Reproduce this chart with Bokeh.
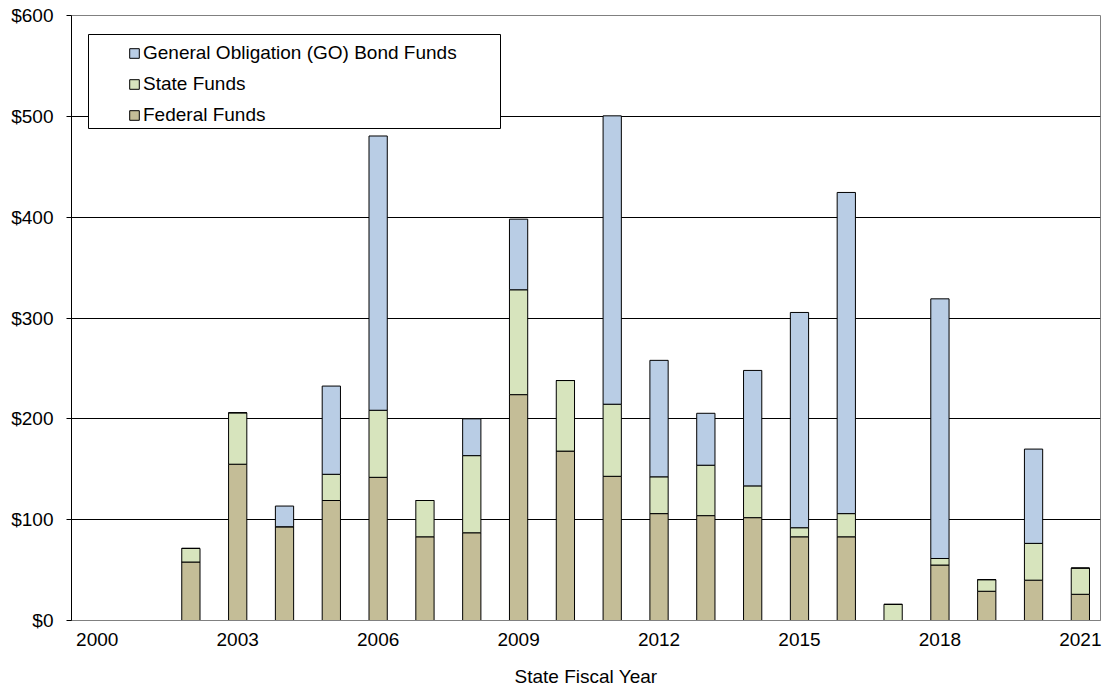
from bokeh.plotting import figure
from bokeh.models import (FixedTicker, NumeralTickFormatter, Legend, LegendItem,
                          BoxAnnotation, Range1d, ColumnDataSource)
from bokeh.embed import file_html
from bokeh.resources import INLINE

years = [2002, 2003, 2004, 2005, 2006, 2007, 2008, 2009, 2010, 2011,
         2012, 2013, 2014, 2015, 2016, 2017, 2018, 2019, 2020, 2021]
federal = [58, 155, 93, 119, 142, 83, 87, 224, 168, 143,
           106, 104, 102, 83, 83, 0, 55, 29, 40, 26]
state = [13.5, 51, 0, 26, 66.5, 36, 76.5, 104, 70, 71.5,
         36.5, 50, 31.5, 9, 23, 16, 6.5, 11.5, 36.5, 26]
go = [0, 0, 20.5, 87.5, 272, 0, 36.5, 70, 0, 286,
      115.5, 51.5, 114.5, 213.5, 318.5, 0, 257.5, 0, 93.5, 0]

series = ["federal", "state", "go"]
labels = {"go": "General Obligation (GO) Bond Funds",
          "state": "State Funds",
          "federal": "Federal Funds"}
colors = ["#C4BD97", "#D7E4BD", "#B9CDE5"]
x_ticks = [2000, 2003, 2006, 2009, 2012, 2015, 2018, 2021]
y_ticks = [0, 100, 200, 300, 400, 500, 600]

FONT = "Liberation Sans"

source = ColumnDataSource(dict(year=years, federal=federal, state=state, go=go))

x0, x1 = 1999.45, 2021.43
p = figure(width=1102, height=693, output_backend="svg", toolbar_location=None,
           x_range=Range1d(x0, x1), y_range=Range1d(0, 600),
           min_border_left=71, min_border_right=2, min_border_top=15,
           min_border_bottom=73)

renderers = p.vbar_stack(series, x="year", width=0.39, source=source,
                         color=colors, line_color="black", line_width=1)

p.xgrid.grid_line_color = None
p.ygrid.grid_line_color = "black"
p.ygrid.grid_line_width = 1
p.outline_line_color = "#808080"
p.background_fill_color = "white"

p.xaxis.ticker = FixedTicker(ticks=x_ticks)
p.yaxis.ticker = FixedTicker(ticks=y_ticks)
p.yaxis.formatter = NumeralTickFormatter(format="$0")
p.xaxis.axis_label = "State Fiscal Year"
for ax in (p.xaxis[0], p.yaxis[0]):
    ax.major_label_text_font = FONT
    ax.major_label_text_font_size = "19px"
    ax.major_label_text_color = "black"
    ax.axis_label_text_font = FONT
    ax.axis_label_text_font_size = "19px"
    ax.axis_label_text_font_style = "normal"
    ax.axis_label_text_color = "black"
    ax.minor_tick_line_color = None
p.xaxis.axis_line_color = "#808080"
p.xaxis.major_tick_line_color = None
p.xaxis.major_tick_out = 0
p.xaxis.major_tick_in = 0
p.xaxis.major_label_standoff = 12
p.xaxis.axis_label_standoff = 17
p.yaxis.axis_line_color = "black"
p.yaxis.major_tick_line_color = "black"
p.yaxis.major_tick_out = 5
p.yaxis.major_tick_in = 0
p.yaxis.major_label_standoff = 13

# legend frame (page px 88..500, 34..128); plot frame is 1029 x 605 px starting at (71, 15)
fw, fh = 1029.0, 605.0
def px_to_x(px):
    return x0 + (px - 71) / fw * (x1 - x0)
def px_to_y(py):
    return 600 - (py - 15) / fh * 600
box = BoxAnnotation(left=px_to_x(88), right=px_to_x(500), top=px_to_y(34), bottom=px_to_y(128),
                    fill_color="white", fill_alpha=1, line_color="black", line_width=1,
                    line_alpha=1)
p.add_layout(box)

items = [LegendItem(label=labels["go"], renderers=[renderers[2]]),
         LegendItem(label=labels["state"], renderers=[renderers[1]]),
         LegendItem(label=labels["federal"], renderers=[renderers[0]])]
legend = Legend(items=items, location=(57, 494), padding=5, spacing=9,
                glyph_width=12, glyph_height=12, label_standoff=3,
                label_text_font=FONT, label_text_font_size="19px", label_text_color="black",
                border_line_color=None, background_fill_alpha=0, margin=0)
p.add_layout(legend)

open("out.html", "w").write(file_html(p, INLINE))
